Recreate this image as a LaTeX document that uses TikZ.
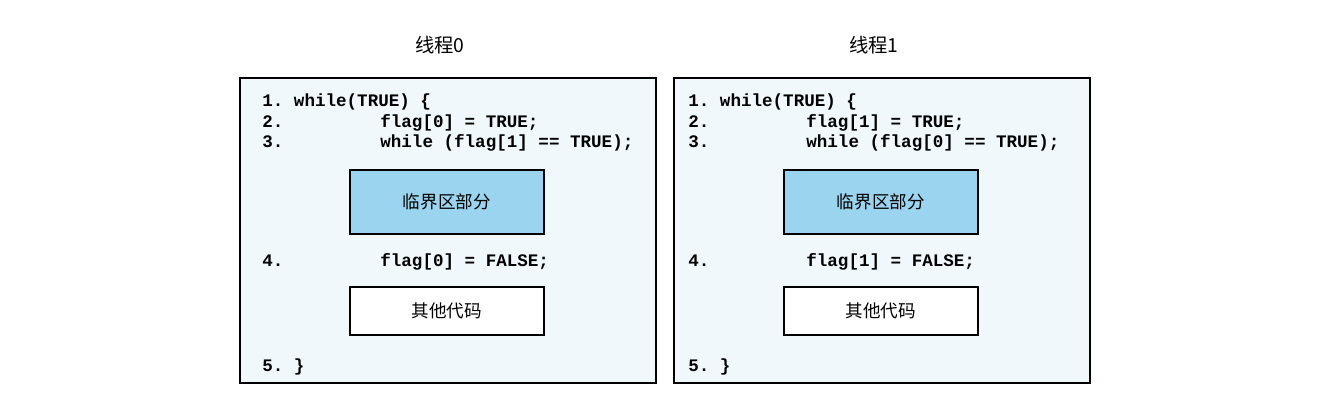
\documentclass[tikz,border=0pt]{standalone}
\usepackage{fontspec}
\setmonofont{Liberation Mono}
\newfontfamily\cjk{Noto Sans CJK SC}
\definecolor{panelbg}{HTML}{F1F8FC}
\definecolor{critblue}{HTML}{9BD4EE}
\tikzset{
  panel/.style={draw=black,line width=1pt,fill=panelbg,inner sep=0pt,anchor=north west,minimum width=8.32cm,minimum height=6.1cm},
  codebox/.style={draw=black,line width=1pt,inner sep=0pt,anchor=north west,minimum width=3.88cm,font=\cjk\fontsize{10}{12}\selectfont},
  code/.style={anchor=base west,inner sep=0pt,font=\ttfamily\bfseries\fontsize{10}{12}\selectfont},
  title/.style={font=\cjk\fontsize{11}{13}\selectfont}
}
\begin{document}
\begin{tikzpicture}[x=0.02cm,y=-0.02cm]
\useasboundingbox (0,0) rectangle (1328,406);
\foreach \t/\o/\dx/\cx in {0/1/0/0,1/0/434/426}{
\begin{scope}[xshift=\dx*0.02cm]
\node[title] (title\t) at (440,45) {线程\t};
\node[panel] (panel\t) at (239,77) {};
\node[codebox,fill=critblue,minimum height=1.28cm] (crit\t) at (349,169) {临界区部分};
\node[codebox,fill=white,minimum height=0.96cm] (rest\t) at (349,286) {其他代码};
\end{scope}
% code lines
\begin{scope}[xshift=\cx*0.02cm]
\node[code] (l1\t) at (262,106) {1. while(TRUE) \{};
\node[code] (n2\t) at (262,127) {2.};
\node[code] (c2\t) at (380,127) {flag[\t] = TRUE;};
\node[code] (n3\t) at (262,147) {3.};
\node[code] (c3\t) at (380,147) {while (flag[\o] == TRUE);};
\node[code] (n4\t) at (262,266) {4.};
\node[code] (c4\t) at (380,266) {flag[\t] = FALSE;};
\node[code] (l5\t) at (262,371) {5. \}};
\end{scope}
}
\end{tikzpicture}
\end{document}
